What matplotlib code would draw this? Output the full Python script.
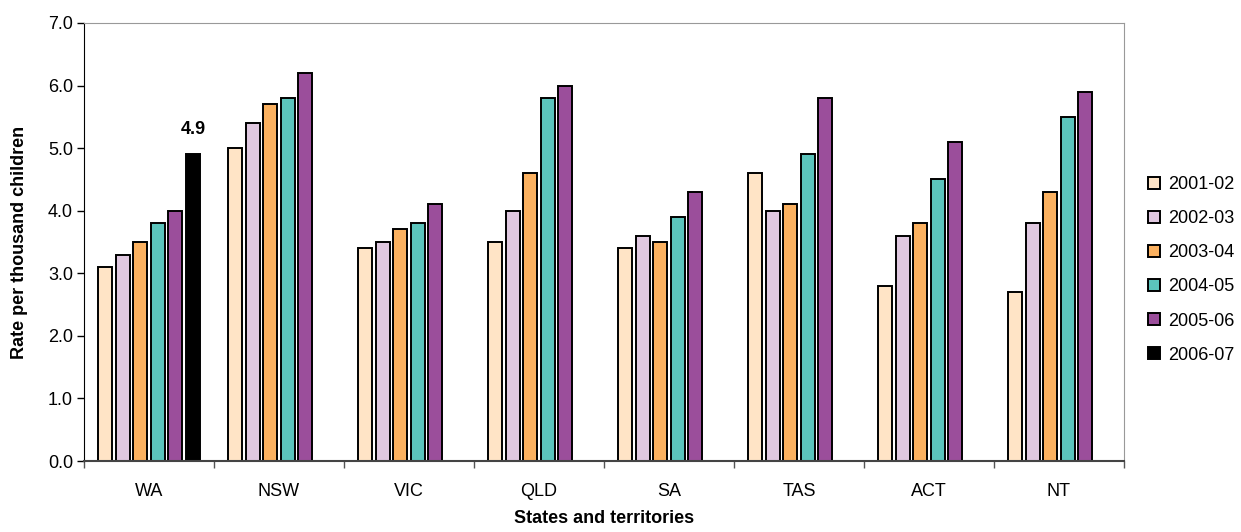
import numpy as np
import matplotlib
matplotlib.use("Agg")
import matplotlib.pyplot as plt

plt.rcParams['font.family'] = ['Liberation Sans', 'DejaVu Sans']

states = ["WA", "NSW", "VIC", "QLD", "SA", "TAS", "ACT", "NT"]
years = ["2001-02", "2002-03", "2003-04", "2004-05", "2005-06", "2006-07"]

r_2001 = [3.1, 5.0, 3.4, 3.5, 3.4, 4.6, 2.8, 2.7]
r_2002 = [3.3, 5.4, 3.5, 4.0, 3.6, 4.0, 3.6, 3.8]
r_2003 = [3.5, 5.7, 3.7, 4.6, 3.5, 4.1, 3.8, 4.3]
r_2004 = [3.8, 5.8, 3.8, 5.8, 3.9, 4.9, 4.5, 5.5]
r_2005 = [4.0, 6.2, 4.1, 6.0, 4.3, 5.8, 5.1, 5.9]
r_2006 = [4.9, np.nan, np.nan, np.nan, np.nan, np.nan, np.nan, np.nan]

series = [r_2001, r_2002, r_2003, r_2004, r_2005, r_2006]
colors = ["#FFE4C6", "#E0C8E0", "#FBB160", "#5BC4BC", "#9B4E9B", "#000000"]

fig = plt.figure(figsize=(12.41, 5.32), dpi=100)
ax = fig.add_axes([84 / 1241, 71 / 532, 1040 / 1241, 438 / 532])

x = np.arange(len(states))
pitch = 0.135
width = 0.108
for i, (vals, col, yr) in enumerate(zip(series, colors, years)):
    ax.bar(x + (i - 2.5) * pitch, vals, width, color=col, edgecolor="black",
           linewidth=1.4, label=yr)

ax.text(x[0] + 2.5 * pitch, r_2006[0] + 0.27, "4.9", ha="center", va="bottom",
        fontsize=13, fontweight="bold")

ax.set_xlim(-0.5, len(states) - 0.5)
ax.set_ylim(0, 7)
ax.set_yticks(np.arange(0, 7.01, 1.0))
ax.set_yticklabels([f"{v:.1f}" for v in np.arange(0, 7.01, 1.0)], fontsize=13)
ax.set_xticks(x)
ax.set_xticklabels(states, fontsize=13)
ax.tick_params(axis="x", length=0, pad=16)
ax.set_xticks(np.arange(-0.5, len(states), 1.0), minor=True)
ax.tick_params(axis="x", which="minor", length=5, direction="out", width=1, color="#555555")
ax.tick_params(axis="y", length=5, width=1, pad=3)

ax.spines["left"].set_color("black")
ax.spines["bottom"].set_color("#444444")
ax.spines["bottom"].set_linewidth(1.5)
ax.spines["top"].set_color("#999999")
ax.spines["right"].set_color("#999999")

ax.set_ylabel("Rate per thousand children", fontsize=13, fontweight="bold", labelpad=14)
ax.set_xlabel("States and territories", fontsize=13, fontweight="bold", labelpad=7)

ax.legend(loc="upper left", bbox_to_anchor=(1148 / 1241, 1 - 176 / 532),
          bbox_transform=fig.transFigure, frameon=False, borderpad=0,
          borderaxespad=0, fontsize=13, handlelength=0.65, handleheight=0.65,
          labelspacing=0.95, handletextpad=0.45)

fig.savefig("out.png", dpi=100)
